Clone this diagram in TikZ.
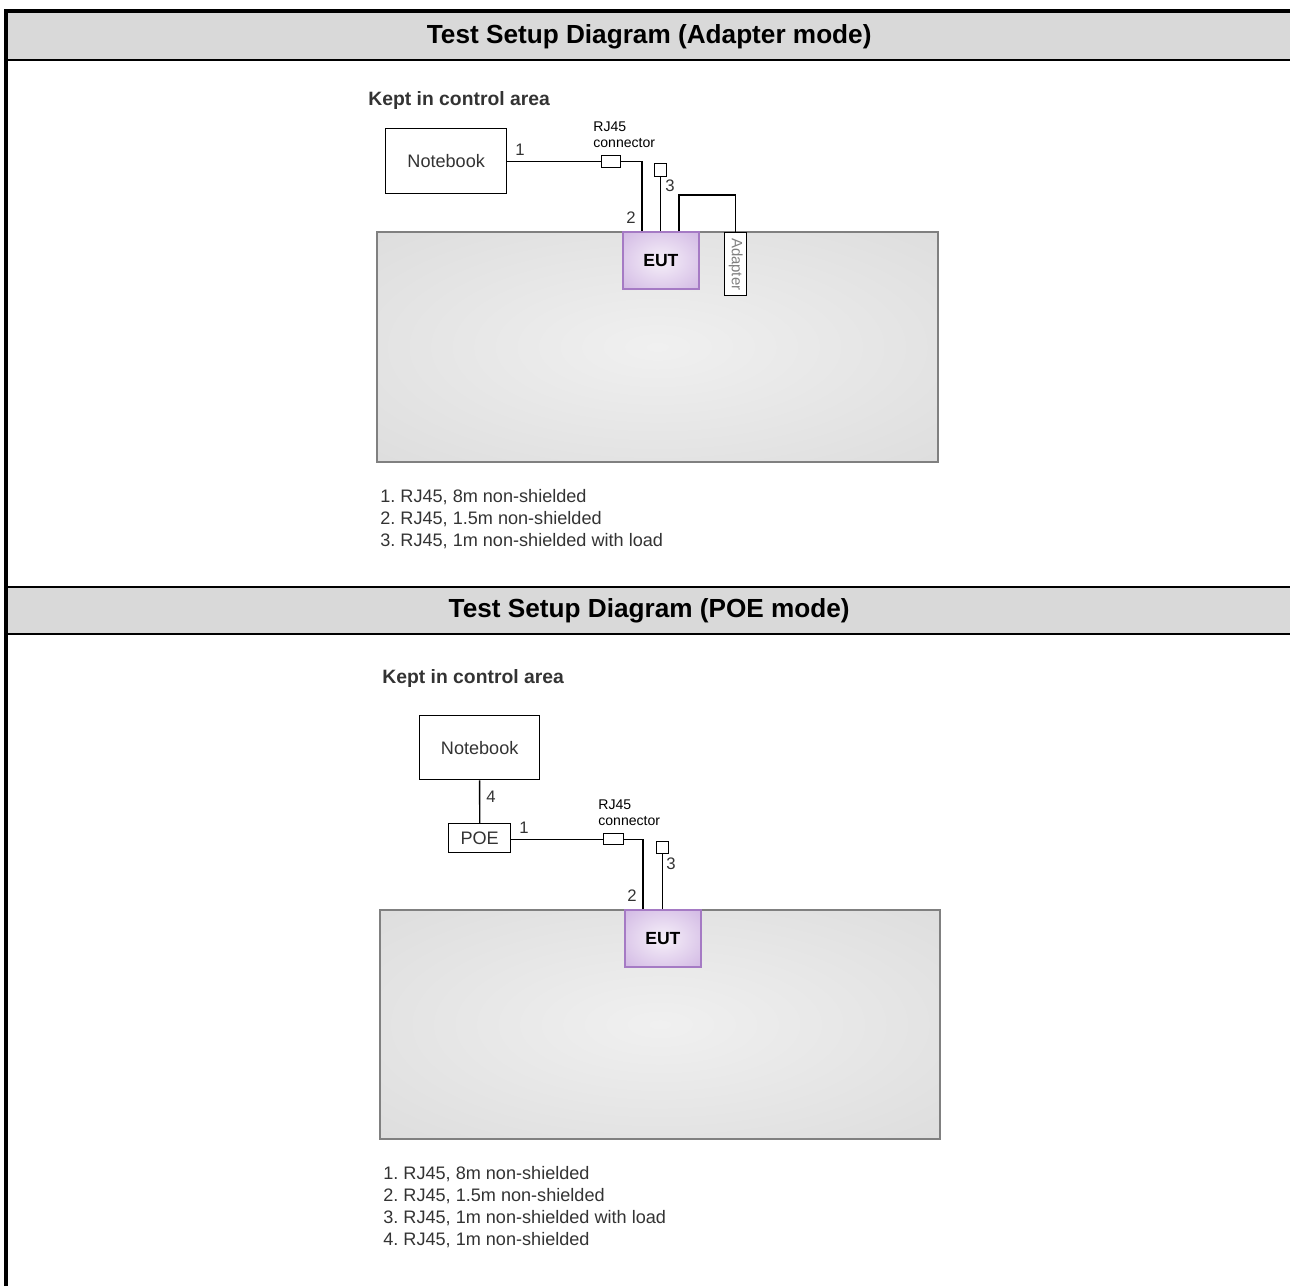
\documentclass[tikz,border=0pt]{standalone}
\usepackage{fontspec}
\setmainfont{Liberation Sans}
\usetikzlibrary{calc}
\frenchspacing

\definecolor{hdrgray}{HTML}{D9D9D9}
\definecolor{txtgray}{HTML}{333333}
\definecolor{tblline}{HTML}{808080}
\definecolor{tblin}{HTML}{F0F0F0}
\definecolor{tblout}{HTML}{D6D6D6}
\definecolor{tblcorner}{HTML}{CCCCCC}
\definecolor{eutline}{HTML}{A57AC4}
\definecolor{eutin}{HTML}{F6F0F9}
\definecolor{eutout}{HTML}{C3A2DB}

\pgfdeclareradialshading{tblshade}{\pgfpoint{0bp}{0bp}}{color(0bp)=(tblin); color(50bp)=(tblout); color(71bp)=(tblcorner)}
\pgfdeclareradialshading{eutshade}{\pgfpoint{0bp}{0bp}}{color(0bp)=(eutin); color(50bp)=(eutout); color(71bp)=(eutout)}

\begin{document}
\begin{tikzpicture}[
    x=0.02cm, y=-0.02cm,
    % Define styles
    frame/.style={line width=2.3pt},
    rule/.style={line width=1.2pt},
    header/.style={
        rectangle,
        fill=hdrgray,
        minimum width=25.64cm,
        minimum height=0.92cm,
        inner sep=0pt,
        anchor=north west,
        font=\fontsize{14.9}{17}\selectfont\bfseries
    },
    title/.style={
        anchor=west,
        text=txtgray,
        inner sep=0pt,
        font=\fontsize{11}{13}\selectfont\bfseries
    },
    device/.style={
        rectangle,
        draw,
        line width=0.8pt,
        fill=white,
        inner sep=0pt,
        anchor=north west,
        text=txtgray,
        font=\fontsize{10.3}{12}\selectfont
    },
    table/.style={
        rectangle,
        draw=tblline,
        line width=1pt,
        shading=tblshade,
        inner sep=0pt,
        anchor=north west
    },
    eut/.style={
        rectangle,
        draw=eutline,
        line width=1pt,
        shading=eutshade,
        inner sep=0pt,
        anchor=north west,
        font=\fontsize{10}{12}\selectfont\bfseries
    },
    cable/.style={line width=0.8pt},
    number/.style={
        inner sep=0pt,
        text=txtgray,
        font=\fontsize{9.5}{11}\selectfont
    },
    small/.style={
        align=left,
        inner sep=0pt,
        anchor=north west,
        font=\fontsize{8}{9.2}\selectfont
    },
    legend/.style={
        align=left,
        inner sep=0pt,
        anchor=north west,
        text=txtgray,
        font=\fontsize{10.3}{12.5}\selectfont
    }
]

\useasboundingbox (0,0) rectangle (1290,1286);

% Headers
\node[header] (hd1) at (8,13) {Test Setup Diagram (Adapter mode)};
\node[header] (hd2) at (8,587) {Test Setup Diagram (POE mode)};

% Frame and rules
\draw[frame] (6,1286) -- (6,11) -- (1290,11);
\draw[rule] (hd1.south west) -- (hd1.south east);
\draw[rule] (hd2.north west) -- (hd2.north east);
\draw[rule] (hd2.south west) -- (hd2.south east);

% ---------- Adapter mode ----------
\node[title] (ka1) at (368,100) {Kept in control area};

\node[table, minimum width=11.22cm, minimum height=4.6cm] (tb1) at (376,231) {};
\node[device, minimum width=2.42cm, minimum height=1.3cm] (nb1) at (385,128) {Notebook};
\node[device, minimum width=0.38cm, minimum height=0.24cm] (rj1) at (601,155) {};
\node[device, minimum width=0.24cm, minimum height=0.26cm] (ld1) at (654,163) {};
\node[eut, minimum width=1.52cm, minimum height=1.14cm] (eut1) at (622,231) {EUT};
\node[device, minimum width=0.44cm, minimum height=1.26cm,
    label={[rotate=-90, text=gray, font=\fontsize{8.5}{10}\selectfont]center:Adapter}] (adp1) at (724,232) {};

\node[small] (cn1) at (593,121) {RJ45\\connector};

% Cables
\draw[cable] (rj1.west -| nb1.east) -- (rj1.west);
\draw[cable] (rj1.east) -| ($(eut1.north west)+(20,0)$);
\draw[cable] (ld1.south) -- (ld1.south |- eut1.north);
\draw[cable] ($(eut1.north west)+(57,0)$) -- ++(0,-36) -| (adp1.north);

% Cable numbers
\node[number] (c1a) at (520,150) {1};
\node[number] (c2a) at (631,218) {2};
\node[number] (c3a) at (670,186) {3};

\node[legend] (lg1) at (380,489) {1. RJ45, 8m non-shielded\\2. RJ45, 1.5m non-shielded\\3. RJ45, 1m non-shielded with load};

% ---------- POE mode ----------
\node[title] (ka2) at (382,678) {Kept in control area};

\node[table, minimum width=11.2cm, minimum height=4.58cm] (tb2) at (379,909) {};
\node[device, minimum width=2.4cm, minimum height=1.28cm] (nb2) at (419,715) {Notebook};
\node[device, minimum width=1.24cm, minimum height=0.58cm] (poe2) at (448,823) {POE};
\node[device, minimum width=0.4cm, minimum height=0.22cm] (rj2) at (603,833) {};
\node[device, minimum width=0.24cm, minimum height=0.24cm] (ld2) at (656,841) {};
\node[eut, minimum width=1.52cm, minimum height=1.14cm] (eut2) at (624,909) {EUT};

\node[small] (cn2) at (598,799) {RJ45\\connector};

% Cables
\draw[cable] (nb2.south) -- (poe2.north);
\draw[cable] (rj2.west -| poe2.east) -- (rj2.west);
\draw[cable] (rj2.east) -| ($(eut2.north west)+(19,0)$);
\draw[cable] (ld2.south) -- (ld2.south |- eut2.north);

% Cable numbers
\node[number] (c4b) at (491,797) {4};
\node[number] (c1b) at (524,828) {1};
\node[number] (c3b) at (671,864) {3};
\node[number] (c2b) at (632,896) {2};

\node[legend] (lg2) at (383,1166) {1. RJ45, 8m non-shielded\\2. RJ45, 1.5m non-shielded\\3. RJ45, 1m non-shielded with load\\4. RJ45, 1m non-shielded};

\end{tikzpicture}
\end{document}
